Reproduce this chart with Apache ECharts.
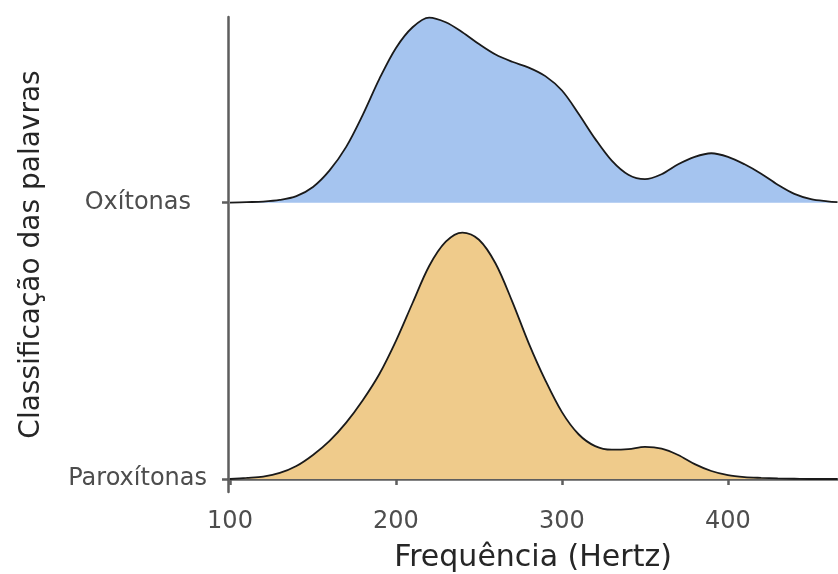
<!DOCTYPE html>
<html>
<head>
<meta charset="utf-8">
<title>Frequência por classificação das palavras</title>
<script src="https://cdn.jsdelivr.net/npm/echarts@6/dist/echarts.min.js"></script>
<style>
  html, body { margin: 0; padding: 0; background: #fff; }
  #chart { width: 838px; height: 574px; }
</style>
</head>
<body>
<div id="chart"></div>
<script>
// categorias, de baixo para cima (0 = Paroxítonas, 1 = Oxítonas)
const categorias = ['Paroxítonas', 'Oxítonas'];

// frequências (Hz) onde a altura das curvas foi lida no gráfico
const freq = [100, 110, 120, 130, 140, 150, 160, 170, 180, 190, 200, 210, 220, 230, 240, 250, 260, 270, 280,
  290, 300, 310, 320, 330, 340, 350, 360, 370, 380, 390, 400, 410, 420, 430, 440, 450, 460, 466];

// altura da densidade (1 = distância entre as duas linhas de base)
const oxDens = [0, 0.002, 0.004, 0.010, 0.024, 0.057, 0.117, 0.202, 0.318, 0.448, 0.560, 0.635, 0.670, 0.653,
  0.617, 0.574, 0.536, 0.510, 0.489, 0.458, 0.406, 0.322, 0.231, 0.152, 0.101, 0.085, 0.103, 0.139, 0.166,
  0.179, 0.166, 0.139, 0.105, 0.065, 0.032, 0.013, 0.005, 0.002];
const paroxDens = [0, 0.004, 0.009, 0.022, 0.047, 0.087, 0.138, 0.204, 0.285, 0.380, 0.500, 0.637, 0.771, 0.859,
  0.892, 0.866, 0.780, 0.643, 0.491, 0.357, 0.242, 0.162, 0.119, 0.106, 0.108, 0.116, 0.110, 0.087, 0.054,
  0.029, 0.014, 0.007, 0.004, 0.002, 0.001, 0, 0, 0];

const xTicks = [100, 200, 300, 400];

function montaSerie(dens, base) {
  return freq.map((f, i) => [f, base + dens[i]]);
}

const chart = echarts.init(document.getElementById('chart'));

const textoEixo = { fontFamily: 'DejaVu Sans', fontSize: 24, color: '#4d4d4d' };
const linhaEixo = { color: '#5e5e5e', width: 2.5 };

const option = {
  animation: false,
  backgroundColor: '#fff',
  grid: { left: 228, right: 0, top: 17, bottom: 82, containLabel: false, outerBoundsMode: 'none' },
  xAxis: {
    type: 'value',
    min: 98.8,
    max: 466.3,
    name: 'Frequência (Hertz)',
    nameLocation: 'middle',
    nameGap: 51,
    nameTextStyle: { fontFamily: 'DejaVu Sans', fontSize: 30, color: '#262626' },
    axisLine: { show: true, lineStyle: linhaEixo },
    axisTick: { show: true, customValues: xTicks, length: 6, lineStyle: linhaEixo },
    axisLabel: Object.assign({ customValues: xTicks, margin: 18 }, textoEixo),
    splitLine: { show: false }
  },
  yAxis: {
    type: 'value',
    min: -0.047,
    max: 1.672,
    name: 'Classificação das palavras',
    nameLocation: 'middle',
    nameGap: 182,
    nameTextStyle: { fontFamily: 'DejaVu Sans', fontSize: 28, color: '#262626' },
    axisLine: { show: true, lineStyle: linhaEixo },
    axisTick: { show: true, customValues: [0, 1], length: 6, lineStyle: linhaEixo },
    axisLabel: Object.assign({
      customValues: [0, 1],
      margin: 21,
      formatter: function (v) {
        // "Oxítonas" fica um pouco afastado do eixo no original
        return v === 1 ? '{o|' + categorias[1] + '}' : categorias[0];
      },
      rich: { o: { fontFamily: 'DejaVu Sans', fontSize: 24, color: '#4d4d4d', padding: [0, 16, 0, 0] } }
    }, textoEixo),
    splitLine: { show: false }
  },
  series: [
    {
      name: categorias[1],
      type: 'line',
      smooth: 0.33,
      symbol: 'none',
      data: montaSerie(oxDens, 1),
      lineStyle: { color: '#1a1a1a', width: 1.8 },
      areaStyle: { color: '#a5c4ef', opacity: 1, origin: 1 }
    },
    {
      name: categorias[0],
      type: 'line',
      smooth: 0.33,
      symbol: 'none',
      data: montaSerie(paroxDens, 0),
      lineStyle: { color: '#1a1a1a', width: 1.8 },
      areaStyle: { color: '#efcb8b', opacity: 1, origin: 0 }
    }
  ]
};

chart.setOption(option);
</script>
</body>
</html>
